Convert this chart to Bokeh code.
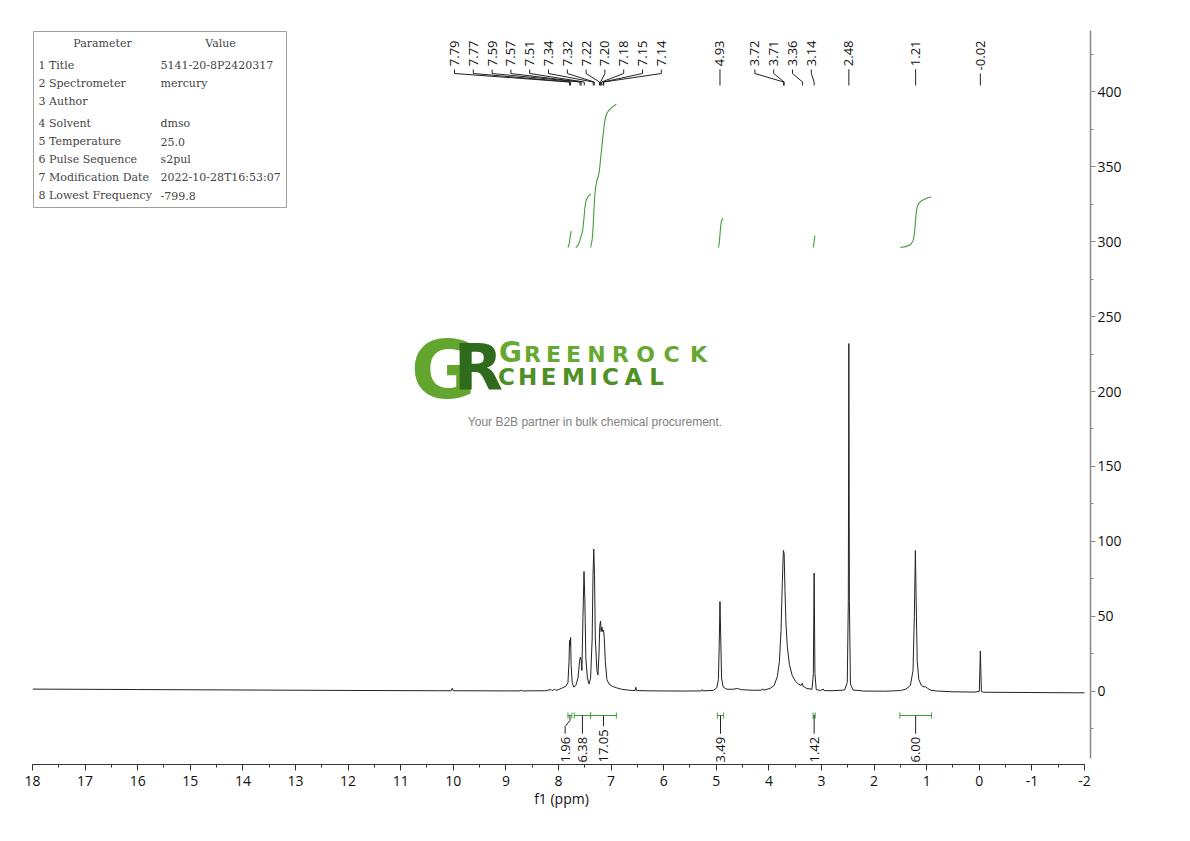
import numpy as np
from math import pi
from bokeh.plotting import figure
from bokeh.models import Range1d, SingleIntervalTicker
from bokeh.core.properties import value
from bokeh.embed import file_html
from bokeh.resources import INLINE

# ---------------- data ----------------
spec_ppm = [18.0, 16.0, 14.0, 12.0, 10.3, 10.04, 10.02, 10.0, 9.0, 8.73,
            8.71, 8.69, 8.25, 8.14, 8.12, 8.07, 8.05, 8.0, 7.92, 7.86,
            7.82, 7.80, 7.79, 7.78, 7.77, 7.76, 7.74, 7.71, 7.67, 7.63,
            7.60, 7.585, 7.57, 7.555, 7.535, 7.515, 7.50, 7.48, 7.45, 7.42,
            7.39, 7.36, 7.345, 7.33, 7.315, 7.30, 7.27, 7.25, 7.23, 7.215,
            7.20, 7.19, 7.175, 7.16, 7.145, 7.13, 7.11, 7.08, 7.04, 6.98,
            6.90, 6.80, 6.65, 6.545, 6.53, 6.515, 6.2, 5.6, 5.28, 5.265,
            5.25, 5.05, 4.99, 4.96, 4.945, 4.93, 4.915, 4.90, 4.87, 4.80,
            4.68, 4.60, 4.52, 4.30, 4.14, 4.12, 4.10, 3.98, 3.90, 3.84,
            3.80, 3.77, 3.745, 3.725, 3.71, 3.695, 3.675, 3.65, 3.61, 3.56,
            3.50, 3.44, 3.385, 3.365, 3.35, 3.28, 3.18, 3.155, 3.14, 3.125,
            3.10, 3.02, 2.965, 2.95, 2.80, 2.56, 2.51, 2.49, 2.48, 2.47,
            2.45, 2.40, 2.20, 1.80, 1.50, 1.40, 1.31, 1.26, 1.235, 1.215,
            1.20, 1.18, 1.15, 1.10, 1.05, 1.02, 0.98, 0.92, 0.80, 0.50,
            0.10, 0.0, -0.02, -0.04, -0.08, -1.0, -2.0]
spec_int = [1.6, 1.3, 1.0, 0.7, 0.5, 0.5, 2.2, 0.5, 0.4, 0.4,
            1.0, 0.4, 0.5, 1.3, 0.6, 1.5, 0.8, 1.2, 2.5, 3.5,
            6, 20, 34, 30, 36, 18, 6, 3, 4, 9,
            20, 23, 21, 14, 50, 80, 62, 22, 9, 5,
            9, 35, 75, 95, 78, 35, 14, 11, 25, 44,
            47, 40, 43, 40, 41, 36, 20, 8, 5, 3.5,
            2.5, 1.5, 0.8, 0.6, 2.8, 0.6, 0.4, 0.3, 0.4, 1.3,
            0.4, 0.8, 2.5, 8, 30, 60, 35, 9, 3, 1.5,
            1.5, 2, 1.2, 0.8, 0.9, 1.8, 0.9, 2.0, 4, 10,
            20, 40, 72, 94, 92, 68, 45, 30, 18, 11,
            7, 5, 4, 5.5, 3.5, 2, 1.5, 12, 79, 12,
            1.2, 0.7, 1.6, 0.6, 0.5, 1, 6, 60, 232, 60,
            5, 1, 0.3, 0.2, 0.6, 1.5, 4, 14, 50, 94,
            60, 20, 8, 4, 3, 3.2, 2, 0.8, 0.3, -0.2,
            -0.4, 0, 27, 0, -0.5, -0.7, -0.9]
assert len(spec_ppm) == len(spec_int)

peak_labels = ["7.79", "7.77", "7.59", "7.57", "7.51", "7.34", "7.32", "7.22",
               "7.20", "7.18", "7.15", "7.14", "4.93", "3.72", "3.71", "3.36",
               "3.14", "2.48", "1.21", "-0.02"]
peak_ppm = [7.79, 7.77, 7.59, 7.57, 7.51, 7.34, 7.32, 7.22,
            7.20, 7.18, 7.15, 7.14, 4.93, 3.72, 3.71, 3.36,
            3.14, 2.48, 1.21, -0.02]

int_start = [7.82, 7.70, 7.39, 4.98, 3.16, 1.51]
int_end = [7.745, 7.39, 6.90, 4.86, 3.12, 0.91]
int_values = [1.96, 6.38, 17.05, 3.49, 1.42, 6.00]
int_labels = ["1.96", "6.38", "17.05", "3.49", "1.42", "6.00"]

param_names = ["1 Title", "2 Spectrometer", "3 Author", "4 Solvent", "5 Temperature",
               "6 Pulse Sequence", "7 Modification Date", "8 Lowest Frequency"]
param_values = ["5141-20-8P2420317", "mercury", "", "dmso", "25.0", "s2pul",
                "2022-10-28T16:53:07", "-799.8"]

# ---------------- geometry ----------------
FRAME_L, FRAME_T = 32, 30          # page pixel position of the frame
FRAME_W, FRAME_H = 1058, 734
X0, X1 = 18.0, -2.1141
Y0, Y1 = -48.67, 440.67


def X(sx):
    return X0 + (sx - FRAME_L) * (X1 - X0) / FRAME_W


def Y(sy):
    return Y1 - (sy - FRAME_T) * (Y1 - Y0) / FRAME_H


PX_PER_PPM = FRAME_W / abs(X1 - X0)
PX_PER_UNIT = FRAME_H / (Y1 - Y0)


def tlen(s, fs=13):
    w = 0
    for c in s:
        w += 0.572 if c.isdigit() else (0.266 if c == "." else 0.322)
    return w * fs


p = figure(frame_width=FRAME_W, frame_height=FRAME_H,
           x_range=Range1d(X0, X1), y_range=Range1d(Y0, Y1),
           y_axis_location="right", output_backend="svg", toolbar_location=None,
           min_border_left=32, min_border_top=30, min_border_right=20,
           min_border_bottom=6)
p.outline_line_color = None
p.grid.visible = False
p.background_fill_color = "white"

# x axis
xa = p.xaxis[0]
xa.bounds = (-2, 18)
xa.ticker = SingleIntervalTicker(interval=1, num_minor_ticks=2)
xa.major_tick_in = 0
xa.major_tick_out = 6
xa.minor_tick_in = 0
xa.minor_tick_out = 3
xa.axis_line_color = "#333333"
xa.major_tick_line_color = "#333333"
xa.minor_tick_line_color = "#333333"
xa.major_label_text_font = "Open Sans"
xa.major_label_text_font_size = "14px"
xa.major_label_text_color = "#111111"
xa.major_label_standoff = 5
xa.major_label_overrides = {-1: "-1", -2: "-2"}
xa.axis_label = "f1 (ppm)"
xa.axis_label_text_font = "Open Sans"
xa.axis_label_text_font_size = "14px"
xa.axis_label_text_font_style = "normal"
xa.axis_label_text_color = "#111111"
xa.axis_label_standoff = 0

# y axis (right)
ya = p.yaxis[0]
ya.bounds = (-45, Y1)
ya.ticker = SingleIntervalTicker(interval=50, num_minor_ticks=2)
ya.major_tick_in = 0
ya.major_tick_out = 5
ya.minor_tick_in = 0
ya.minor_tick_out = 3
ya.axis_line_color = "#888888"
ya.axis_line_width = 1.5
ya.major_tick_line_color = "#888888"
ya.minor_tick_line_color = "#888888"
ya.major_label_text_font = "Open Sans"
ya.major_label_text_font_size = "14px"
ya.major_label_text_color = "#111111"
ya.major_label_standoff = 2

# ---------------- watermark logo ----------------
p.text(x=[X(443)], y=[Y(370)], text=["G"], text_align="center", text_baseline="middle",
       text_font=value("DejaVu Sans"), text_font_style="bold", text_font_size="80px",
       text_color="#62a52f")
p.text(x=[X(478)], y=[Y(367)], text=["R"], text_align="center", text_baseline="middle",
       text_font=value("DejaVu Sans"), text_font_style="bold", text_font_size="64px",
       text_color="#2f6a1d")
word1 = list("GREENROCK")
word1_x = [510, 532, 553, 573, 596, 620, 645, 671, 698]
p.text(x=[X(word1_x[0])], y=[Y(352)], text=[word1[0]], text_align="center",
       text_baseline="middle", text_font=value("DejaVu Sans"), text_font_style="bold",
       text_font_size="28px", text_color="#66a832")
p.text(x=[X(v) for v in word1_x[1:]], y=[Y(354)] * 8, text=word1[1:], text_align="center",
       text_baseline="middle", text_font=value("DejaVu Sans"), text_font_style="bold",
       text_font_size="22px", text_color="#66a832")
word2 = list("CHEMICAL")
word2_x = [506, 527, 548, 573, 593, 610, 633, 656]
p.text(x=[X(v) for v in word2_x], y=[Y(376.5)] * 8, text=word2, text_align="center",
       text_baseline="middle", text_font=value("DejaVu Sans"), text_font_style="bold",
       text_font_size="23px", text_color="#4f9026")
p.text(x=[X(594.5)], y=[Y(421)], text=["Your B2B partner in bulk chemical procurement."],
       text_align="center", text_baseline="middle", text_font=value("Liberation Sans"),
       text_font_size="12px", text_color="#808080")

# ---------------- parameter table ----------------
p.quad(left=[X(33)], right=[X(286)], top=[Y(31)], bottom=[Y(207)],
       fill_color="white", line_color="#a0a0a0", line_width=1)
TFONT = value("DejaVu Serif")
p.text(x=[X(102), X(220)], y=[Y(43), Y(43)], text=["Parameter", "Value"],
       text_align="center", text_baseline="middle", text_font=TFONT,
       text_font_size="11px", text_color="#444444")
row_sy = [65, 83, 101, 123, 141, 159, 177, 195]
p.text(x=[X(38)] * 8, y=[Y(v) for v in row_sy], text=param_names,
       text_align="left", text_baseline="middle", text_font=TFONT,
       text_font_size="11px", text_color="#444444")
p.text(x=[X(160)] * 8, y=[Y(v) for v in row_sy], text=param_values,
       text_align="left", text_baseline="middle", text_font=TFONT,
       text_font_size="11px", text_color="#444444")

# ---------------- spectrum ----------------
p.line(spec_ppm, spec_int, line_color="#222222", line_width=1)

# ---------------- integrals ----------------
GREEN = "#3f9e3f"
ppm_a = np.array(spec_ppm)
int_a = np.array(spec_int)
INT_BASE = 296
INT_SCALE = 5.6
bar_y = Y(715)
tick_h = 3 / PX_PER_UNIT
curve_xs, curve_ys = [], []
bar_xs, bar_ys = [], []
for a, b, v in zip(int_start, int_end, int_values):
    m = (ppm_a <= a) & (ppm_a >= b)
    xs = ppm_a[m]
    ys = int_a[m]
    seg = 0.5 * (ys[1:] + ys[:-1]) * np.abs(np.diff(xs))
    cum = np.concatenate([[0.0], np.cumsum(seg)])
    cum = cum / cum[-1]
    curve_xs.append(list(xs))
    curve_ys.append(list(INT_BASE + v * INT_SCALE * cum))
    bar_xs += [[a, b], [a, a], [b, b]]
    bar_ys += [[bar_y, bar_y], [bar_y - tick_h, bar_y + tick_h], [bar_y - tick_h, bar_y + tick_h]]
p.multi_line(curve_xs, curve_ys, line_color=GREEN, line_width=1.1)

# integral labels (resolve overlaps by shifting left)
centers = [(a + b) / 2 for a, b in zip(int_start, int_end)]
min_gap = 17.3 / PX_PER_PPM
label_pos = list(centers)
for i in range(len(label_pos) - 2, -1, -1):
    if label_pos[i] - label_pos[i + 1] < min_gap:
        label_pos[i] = label_pos[i + 1] + min_gap
lab_base = Y(762)
conn_xs, conn_ys = [], []
for c, lp, s in zip(centers, label_pos, int_labels):
    top = Y(762 - tlen(s) - 3)
    if abs(c - lp) < 1e-9:
        conn_xs.append([c, c])
        conn_ys.append([bar_y, top])
    else:
        conn_xs.append([c, c, lp, lp])
        conn_ys.append([bar_y, Y(720), Y(726), top])
p.multi_line(bar_xs, bar_ys, line_color=GREEN, line_width=1)
p.multi_line(conn_xs, conn_ys, line_color="#222222", line_width=1)
p.text(x=label_pos, y=[lab_base] * len(label_pos), text=int_labels, angle=pi / 2,
       text_align="left", text_baseline="middle", text_font=value("Open Sans"),
       text_font_size="13px", text_color="#111111")

# ---------------- peak labels ----------------
spacing = 18.8 / PX_PER_PPM
groups = [(list(range(0, 12)), X(454)), (list(range(13, 17)), X(754.4))]
label_x = list(peak_ppm)
grouped = set()
for idx, start in groups:
    for k, i in enumerate(idx):
        label_x[i] = start - k * spacing
        grouped.add(i)
TEXT_TOP = 40
p.text(x=label_x, y=[Y(TEXT_TOP)] * len(label_x), text=peak_labels, angle=pi / 2,
       text_align="right", text_baseline="middle", text_font=value("Open Sans"),
       text_font_size="13px", text_color="#111111")
pl_xs, pl_ys = [], []
for i, (lx, px, s) in enumerate(zip(label_x, peak_ppm, peak_labels)):
    if i in grouped:
        pl_xs.append([lx, lx, px, px])
        pl_ys.append([Y(69), Y(73), Y(81.5), Y(85)])
    else:
        pl_xs.append([px, px])
        pl_ys.append([Y(TEXT_TOP + tlen(s) + 3), Y(85)])
p.multi_line(pl_xs, pl_ys, line_color="#222222", line_width=1)

open("out.html", "w").write(file_html(p, INLINE))
